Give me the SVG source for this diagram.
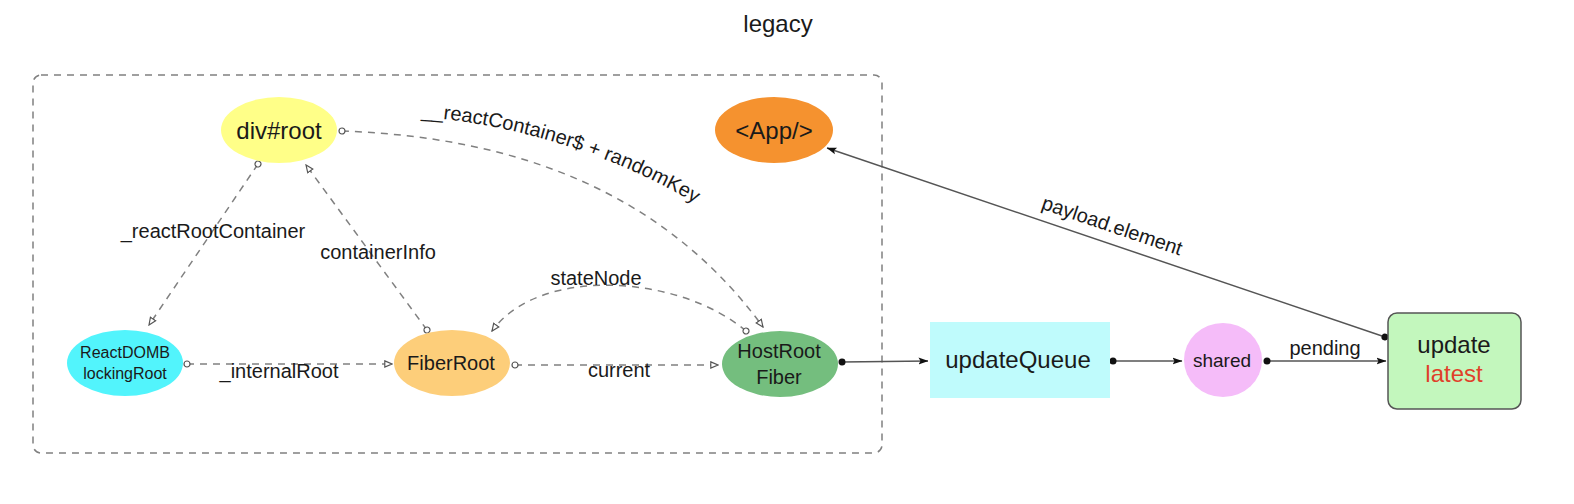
<svg xmlns="http://www.w3.org/2000/svg" width="1574" height="504" viewBox="0 0 1574 504">
<defs>
<style>
text{font-family:"Liberation Sans",Arial,sans-serif;fill:#1a1a1a;text-anchor:middle}
.lbl{font-size:20px}
.dash{fill:none;stroke:#808080;stroke-width:1.5;stroke-dasharray:7 6;marker-start:url(#ocirc);marker-end:url(#otri)}
.solid{fill:none;stroke:#555;stroke-width:1.5;marker-start:url(#dot);marker-end:url(#arr)}
</style>
<marker id="ocirc" viewBox="-5 -5 10 10" refX="0" refY="0" markerWidth="10" markerHeight="10" markerUnits="userSpaceOnUse" orient="auto">
<circle cx="0" cy="0" r="3" fill="#fff" stroke="#555" stroke-width="1.2"/>
</marker>
<marker id="otri" viewBox="0 0 10 10" refX="9" refY="5" markerWidth="9" markerHeight="9" markerUnits="userSpaceOnUse" orient="auto">
<path d="M1,1.5 L9,5 L1,8.5 Z" fill="#fff" stroke="#555" stroke-width="1.3"/>
</marker>
<marker id="dot" viewBox="-5 -5 10 10" refX="0" refY="0" markerWidth="10" markerHeight="10" markerUnits="userSpaceOnUse" orient="auto">
<circle cx="0" cy="0" r="3.5" fill="#111"/>
</marker>
<marker id="arr" viewBox="0 0 10 10" refX="9.5" refY="5" markerWidth="10" markerHeight="10" markerUnits="userSpaceOnUse" orient="auto">
<path d="M0,1.5 L10,5 L0,8.5 L2,5 Z" fill="#111"/>
</marker>
</defs>
<rect width="1574" height="504" fill="#fff"/>
<text x="778" y="32" style="font-size:24px">legacy</text>
<g id="container">
<rect x="33" y="75" width="849" height="378" rx="8" fill="none" stroke="#808080" stroke-width="1.5" stroke-dasharray="7 6"/>
</g>
<g id="connectors">
<path class="dash" d="M342,131 C480,136 650,172 763,327"/>
<path id="rcPath" d="M421,117 C520,124 630,160 712,214" fill="none" stroke="none"/>
<text class="lbl" style="text-anchor:start"><textPath href="#rcPath">__reactContainer$ + randomKey</textPath></text>
<path class="dash" d="M258,164 L149,325"/>
<text class="lbl" x="213" y="238">_reactRootContainer</text>
<path class="dash" d="M427,330 L306,165"/>
<text class="lbl" x="378" y="259">containerInfo</text>
<path class="dash" d="M187,364 L392,364"/>
<text class="lbl" x="279" y="378">_internalRoot</text>
<path class="dash" d="M515,365 L718,365"/>
<text class="lbl" x="619" y="377">current</text>
<path class="dash" d="M746,331 C680,275 540,265 492,331"/>
<text class="lbl" x="596" y="285">stateNode</text>
<path class="solid" d="M842,362 L928,361"/>
<path class="solid" d="M1113,361 L1182,361"/>
<path class="solid" d="M1267,361 L1386,361"/>
<text class="lbl" x="1325" y="355">pending</text>
<path class="solid" d="M1385,337 L827,148"/>
<text class="lbl" x="1110" y="232" transform="rotate(18.7 1110 232)">payload.element</text>
</g>
<g id="divroot">
<ellipse cx="279" cy="130" rx="58" ry="33" fill="#FFFF88"/>
<text x="279" y="139" style="font-size:24px">div#root</text>
</g>
<g id="app">
<ellipse cx="774" cy="130" rx="59" ry="33" fill="#F5922F"/>
<text x="774" y="139" style="font-size:24px">&lt;App/&gt;</text>
</g>
<g id="reactdomblockingroot">
<ellipse cx="125" cy="363" rx="58" ry="33" fill="#52F4FC"/>
<text x="125" y="358" style="font-size:16px">ReactDOMB</text>
<text x="125" y="379" style="font-size:16px">lockingRoot</text>
</g>
<g id="fiberroot">
<ellipse cx="452" cy="363" rx="58" ry="33" fill="#FDCE7A"/>
<text x="451" y="370" style="font-size:20px">FiberRoot</text>
</g>
<g id="hostrootfiber">
<ellipse cx="780" cy="364" rx="58" ry="33" fill="#74BE7E"/>
<text x="779" y="358" style="font-size:20px">HostRoot</text>
<text x="779" y="384" style="font-size:20px">Fiber</text>
</g>
<g id="updatequeue">
<rect x="930" y="322" width="180" height="76" fill="#BFFBFC"/>
<text x="1018" y="368" style="font-size:24px">updateQueue</text>
</g>
<g id="shared">
<ellipse cx="1223" cy="360" rx="39" ry="37" fill="#F5BCF9"/>
<text x="1222" y="367" style="font-size:19px">shared</text>
</g>
<g id="update">
<rect x="1388" y="313" width="133" height="96" rx="9" fill="#C3F7BD" stroke="#555" stroke-width="1.5"/>
<text x="1454" y="353" style="font-size:24px">update</text>
<text x="1454" y="382" style="font-size:24px;fill:#E0402A">latest</text>
</g>
</svg>
